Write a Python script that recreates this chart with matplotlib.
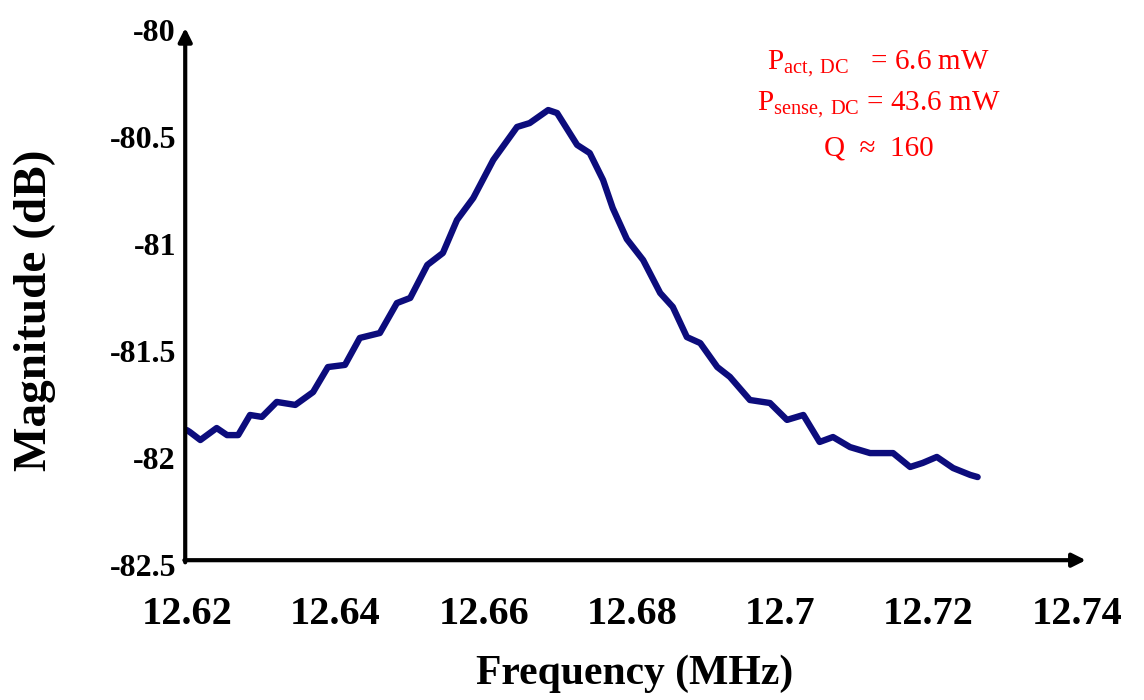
import matplotlib
matplotlib.use("Agg")
import matplotlib.pyplot as plt

# resonance sweep
freq_mhz = [12.6200, 12.6204, 12.6218, 12.6240, 12.6254, 12.6269, 12.6285, 12.6301,
            12.6321, 12.6346, 12.6370, 12.6390, 12.6413, 12.6433, 12.6460, 12.6483,
            12.6501, 12.6524, 12.6545, 12.6564, 12.6586, 12.6613, 12.6645, 12.6662,
            12.6687, 12.6699, 12.6726, 12.6743, 12.6761, 12.6774, 12.6793, 12.6815,
            12.6838, 12.6855, 12.6874, 12.6892, 12.6915, 12.6932, 12.6959, 12.6986,
            12.7009, 12.7031, 12.7053, 12.7071, 12.7094, 12.7121, 12.7152, 12.7175,
            12.7192, 12.7211, 12.7233, 12.7256, 12.7266]
magnitude_db = [-81.87, -81.879, -81.916, -81.860, -81.893, -81.893, -81.799, -81.808,
                -81.738, -81.752, -81.692, -81.575, -81.565, -81.439, -81.416, -81.276,
                -81.252, -81.098, -81.042, -80.888, -80.785, -80.607, -80.453, -80.435,
                -80.374, -80.388, -80.537, -80.575, -80.701, -80.832, -80.977, -81.075,
                -81.229, -81.294, -81.435, -81.463, -81.575, -81.621, -81.729, -81.743,
                -81.822, -81.799, -81.925, -81.902, -81.949, -81.977, -81.977, -82.042,
                -82.023, -81.995, -82.047, -82.079, -82.089]

x_ticks = [12.62, 12.64, 12.66, 12.68, 12.70, 12.72, 12.74]
x_tick_labels = ["12.62", "12.64", "12.66", "12.68", "12.7", "12.72", "12.74"]
y_ticks = [-80, -80.5, -81, -81.5, -82, -82.5]
y_tick_labels = ["-80", "-80.5", "-81", "-81.5", "-82", "-82.5"]

note_lines = [r"P$_{\mathrm{act,\,DC}}$   = 6.6 mW",
              r"P$_{\mathrm{sense,\,DC}}$ = 43.6 mW",
              "Q  \u2248  160"]

plt.rcParams['font.family'] = ['Liberation Serif', 'DejaVu Serif']
plt.rcParams['mathtext.fontset'] = 'custom'
plt.rcParams['mathtext.rm'] = 'Liberation Serif'

W, H = 1144, 700
fig = plt.figure(figsize=(W / 100, H / 100), dpi=100)
# axes box: 12.62 at x=187px, 12.74 at x=1077px; -80 at y=30px, -82.5 at y=565px
ax = fig.add_axes([187 / W, (H - 565) / H, (1077 - 187) / W, (565 - 30) / H])

ax.plot(freq_mhz, magnitude_db, color='#0c0c7c', lw=4.6, solid_capstyle='round',
        solid_joinstyle='round')

ax.set_xlim(12.62, 12.74)
ax.set_ylim(-82.5, -80)
ax.set_xticks(x_ticks)
ax.set_xticklabels(x_tick_labels, fontsize=29, fontweight='bold')
ax.set_yticks(y_ticks)
ax.set_yticklabels(y_tick_labels, fontsize=23, fontweight='bold')
ax.tick_params(axis='both', length=0)
ax.tick_params(axis='x', pad=22)
ax.tick_params(axis='y', pad=8)
for s in ax.spines.values():
    s.set_visible(False)

# arrow axes
arrow = dict(arrowstyle='-|>', lw=3, color='black', mutation_scale=20,
             shrinkA=0, shrinkB=0)
ax.annotate('', xy=(1.01, 0.009), xytext=(-0.003, 0.009), xycoords='axes fraction',
            arrowprops=arrow, annotation_clip=False)
ax.annotate('', xy=(-0.002, 1.004), xytext=(-0.002, 0.005), xycoords='axes fraction',
            arrowprops=arrow, annotation_clip=False)

fig.text(635 / W, 1 - 674 / H, "Frequency (MHz)", fontsize=30, fontweight='bold',
         ha='center', va='center')
fig.text(35 / W, 1 - 310 / H, "Magnitude (dB)", fontsize=34, fontweight='bold',
         ha='center', va='center', rotation=90)

for txt, base in zip(note_lines, [70, 111, 156]):
    fig.text(879 / W, 1 - base / H, txt, fontsize=21, color='#ff0000',
             ha='center', va='baseline')

fig.savefig("out.png", dpi=100, facecolor='white')
